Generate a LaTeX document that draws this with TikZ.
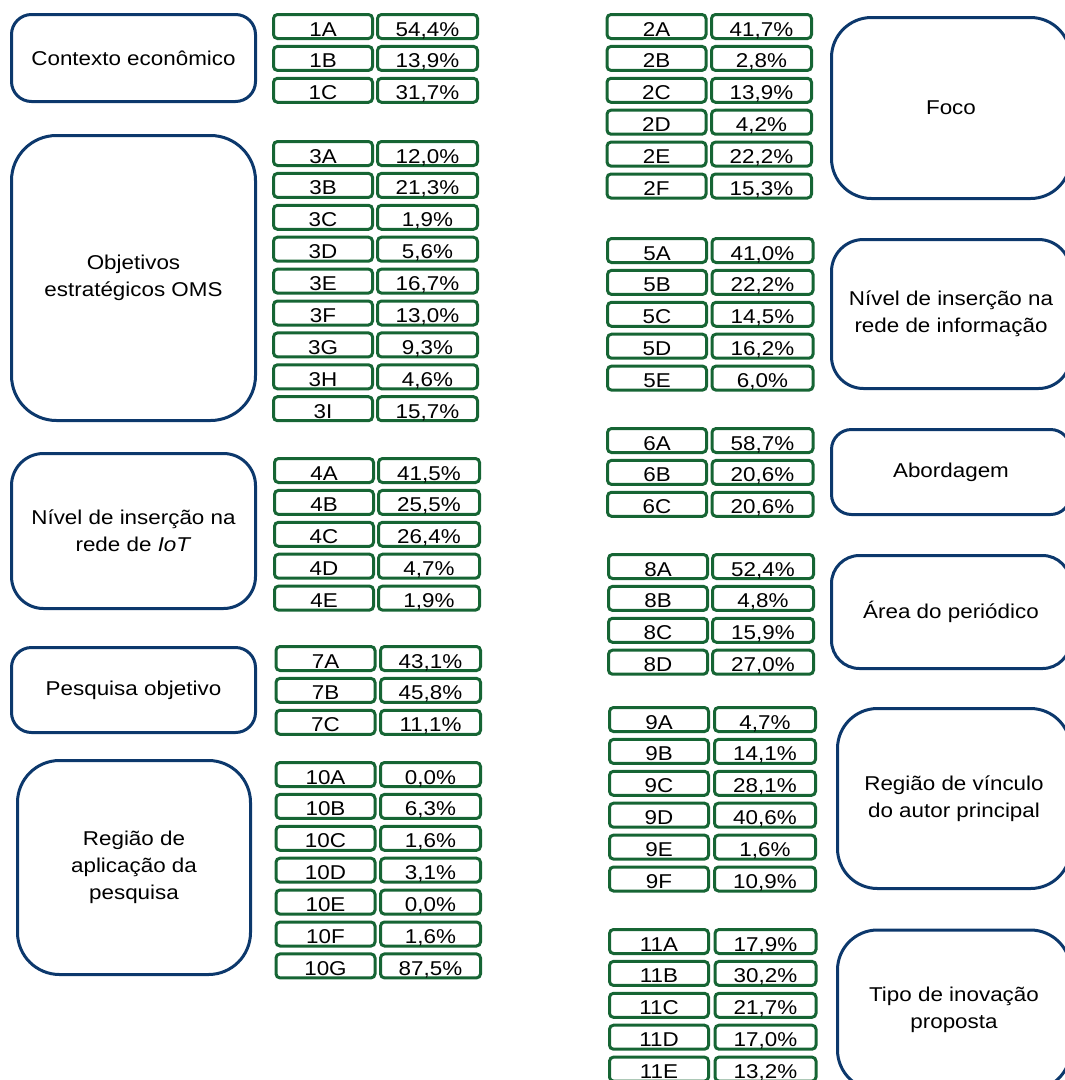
\documentclass[tikz,border=0pt]{standalone}
\usepackage{fontspec}
\setmainfont[FakeStretch=1.12]{Liberation Sans}
\definecolor{catblue}{RGB}{12,56,108}
\definecolor{cellgreen}{RGB}{22,101,52}
\tikzset{
  catbox/.style={draw=catblue, line width=3pt, align=center, inner sep=0pt,
    font=\fontsize{20}{27}\selectfont},
  cellbox/.style={draw=cellgreen, line width=3pt, rounded corners=4pt, inner sep=0pt,
    minimum width=99pt, minimum height=24pt, text height=19pt, text depth=0pt,
    font=\fontsize{20}{24}\selectfont}
}
\begin{document}
\begin{tikzpicture}[x=1pt, y=-1pt]
\useasboundingbox (0,0) rectangle (1065,1080);

% categories, left column
\node[catbox, rounded corners=20pt, minimum width=244pt, minimum height=87pt] (contexto) at (133.5,58) {Contexto econômico};
\node[catbox, rounded corners=45pt, minimum width=244pt, minimum height=285pt] (objetivos) at (133.5,278) {Objetivos\\ estratégicos OMS};
\node[catbox, rounded corners=32pt, minimum width=244pt, minimum height=155pt] (insercaoiot) at (133.5,531) {Nível de inserção na\\ rede de \textit{IoT}};
\node[catbox, rounded corners=20pt, minimum width=244pt, minimum height=85pt] (pesquisa) at (133.5,690) {Pesquisa objetivo};
\node[catbox, rounded corners=42pt, minimum width=233pt, minimum height=214pt] (aplicacao) at (134,867.5) {Região de\\ aplicação da\\ pesquisa};

% categories, right column
\node[catbox, rounded corners=40pt, minimum width=239pt, minimum height=181pt] (foco) at (951,108) {Foco};
\node[catbox, rounded corners=32pt, minimum width=239pt, minimum height=149pt] (insercaoinfo) at (951,314) {Nível de inserção na\\ rede de informação};
\node[catbox, rounded corners=20pt, minimum width=239pt, minimum height=85pt] (abordagem) at (951,472) {Abordagem};
\node[catbox, rounded corners=28pt, minimum width=239pt, minimum height=113pt] (area) at (951,612) {Área do periódico};
\node[catbox, rounded corners=40pt, minimum width=233pt, minimum height=180pt] (vinculo) at (954,798.5) {Região de vínculo\\ do autor principal};
\node[catbox, rounded corners=40pt, minimum width=233pt, minimum height=160pt] (inovacao) at (954,1010) {Tipo de inovação\\ proposta};

% codes and shares, left column
\foreach \code/\pct [count=\i from 0] in {1A/{54,4\%},1B/{13,9\%},1C/{31,7\%}} {
  \node[cellbox] (c\code) at (323,{26.5+31.9*\i}) {\code};
  \node[cellbox, minimum width=100pt] (v\code) at (427.5,{26.5+31.9*\i}) {\pct};
}
\foreach \code/\pct [count=\i from 0] in {3A/{12,0\%},3B/{21,3\%},3C/{1,9\%},3D/{5,6\%},3E/{16,7\%},3F/{13,0\%},3G/{9,3\%},3H/{4,6\%},3I/{15,7\%}} {
  \node[cellbox] (c\code) at (323,{153.5+31.9*\i}) {\code};
  \node[cellbox, minimum width=100pt] (v\code) at (427.5,{153.5+31.9*\i}) {\pct};
}
\foreach \code/\pct [count=\i from 0] in {4A/{41,5\%},4B/{25,5\%},4C/{26,4\%},4D/{4,7\%},4E/{1,9\%}} {
  \node[cellbox] (c\code) at (324,{470.5+31.9*\i}) {\code};
  \node[cellbox, minimum width=101pt] (v\code) at (429,{470.5+31.9*\i}) {\pct};
}
\foreach \code/\pct [count=\i from 0] in {7A/{43,1\%},7B/{45,8\%},7C/{11,1\%}} {
  \node[cellbox] (c\code) at (325.5,{658.5+31.9*\i}) {\code};
  \node[cellbox, minimum width=100pt] (v\code) at (430.5,{658.5+31.9*\i}) {\pct};
}
\foreach \code/\pct [count=\i from 0] in {10A/{0,0\%},10B/{6,3\%},10C/{1,6\%},10D/{3,1\%},10E/{0,0\%},10F/{1,6\%},10G/{87,5\%}} {
  \node[cellbox] (c\code) at (325.5,{774.5+31.9*\i}) {\code};
  \node[cellbox, minimum width=100pt] (v\code) at (430.5,{774.5+31.9*\i}) {\pct};
}

% codes and shares, right column
\foreach \code/\pct [count=\i from 0] in {2A/{41,7\%},2B/{2,8\%},2C/{13,9\%},2D/{4,2\%},2E/{22,2\%},2F/{15,3\%}} {
  \node[cellbox] (c\code) at (656.5,{26.5+31.9*\i}) {\code};
  \node[cellbox, minimum width=100pt] (v\code) at (761.5,{26.5+31.9*\i}) {\pct};
}
\foreach \code/\pct [count=\i from 0] in {5A/{41,0\%},5B/{22,2\%},5C/{14,5\%},5D/{16,2\%},5E/{6,0\%}} {
  \node[cellbox] (c\code) at (657,{250.5+31.9*\i}) {\code};
  \node[cellbox, minimum width=101pt] (v\code) at (762.5,{250.5+31.9*\i}) {\pct};
}
\foreach \code/\pct [count=\i from 0] in {6A/{58,7\%},6B/{20,6\%},6C/{20,6\%}} {
  \node[cellbox] (c\code) at (657,{440.5+31.9*\i}) {\code};
  \node[cellbox, minimum width=101pt] (v\code) at (762.5,{440.5+31.9*\i}) {\pct};
}
\foreach \code/\pct [count=\i from 0] in {8A/{52,4\%},8B/{4,8\%},8C/{15,9\%},8D/{27,0\%}} {
  \node[cellbox] (c\code) at (658,{566.5+31.9*\i}) {\code};
  \node[cellbox, minimum width=101pt] (v\code) at (763,{566.5+31.9*\i}) {\pct};
}
\foreach \code/\pct [count=\i from 0] in {9A/{4,7\%},9B/{14,1\%},9C/{28,1\%},9D/{40,6\%},9E/{1,6\%},9F/{10,9\%}} {
  \node[cellbox] (c\code) at (659,{719.5+31.9*\i}) {\code};
  \node[cellbox, minimum width=101pt] (v\code) at (765,{719.5+31.9*\i}) {\pct};
}
\foreach \code/\pct [count=\i from 0] in {11A/{17,9\%},11B/{30,2\%},11C/{21,7\%},11D/{17,0\%},11E/{13,2\%}} {
  \node[cellbox] (c\code) at (659,{941.5+31.9*\i}) {\code};
  \node[cellbox, minimum width=101pt] (v\code) at (765.5,{941.5+31.9*\i}) {\pct};
}
\end{tikzpicture}
\end{document}
